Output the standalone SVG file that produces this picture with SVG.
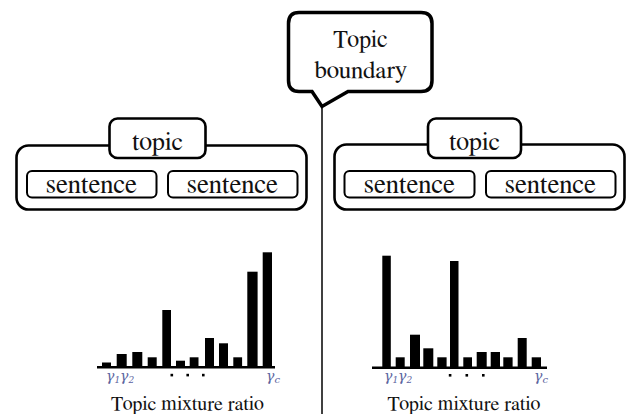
<svg xmlns="http://www.w3.org/2000/svg" width="638" height="414" viewBox="0 0 638 414">
  <style>
    .txt { fill: #111; text-anchor: middle; }
    .frame { fill: #fff; stroke: #000; stroke-width: 2.6; }
    .sent { fill: #fff; stroke: #000; stroke-width: 2; }
    .bar { fill: #000; }
    .gam { font-family: 'DejaVu Serif', serif; font-style: italic; font-size: 14px; fill: #5b64a0; }
    .cap { font-size: 20px; }
  </style>

  <!-- topic boundary line and callout -->
  <g id="connectors">
    <line x1="322" y1="104" x2="322" y2="414" stroke="#000" stroke-width="1.5"/>
  </g>
  <g id="boundary-callout">
    <path d="M 299 12.5 H 421 Q 432 12.5 432 23.5 V 80.5 Q 432 91.5 421 91.5 H 348 L 322 106.5 L 312 91.5 H 299 Q 288.5 91.5 288.5 80.5 V 23.5 Q 288.5 12.5 299 12.5 Z" fill="#fff" stroke="#000" stroke-width="3.5" stroke-linejoin="miter"/>
    <text class="txt" x="360.5" y="46.5" font-size="24" style="font-family:'FreeSerif'">Topic</text>
    <text class="txt" x="360.5" y="78" font-size="25" style="font-family:'FreeSerif'">boundary</text>
  </g>

  <!-- left topic block -->
  <g id="topic-left">
    <rect class="frame" x="16.5" y="145.5" width="290" height="64" rx="12"/>
    <rect class="frame" x="109.5" y="118.5" width="96" height="39.5" rx="8"/>
    <text class="txt" x="157.5" y="149.5" font-size="26" style="font-family:'FreeSerif'">topic</text>
    <g id="sentence-left-1">
      <rect class="sent" x="27" y="171" width="129.5" height="26.5" rx="5"/>
      <text class="txt" x="91.5" y="193" font-size="27" style="font-family:'FreeSerif'">sentence</text>
    </g>
    <g id="sentence-left-2">
      <rect class="sent" x="168" y="171" width="129.5" height="26.5" rx="5"/>
      <text class="txt" x="232.5" y="193" font-size="27" style="font-family:'FreeSerif'">sentence</text>
    </g>
  </g>

  <!-- right topic block -->
  <g id="topic-right">
    <rect class="frame" x="334.5" y="144.5" width="290" height="65" rx="12"/>
    <rect class="frame" x="428" y="118.5" width="93" height="39.5" rx="8"/>
    <text class="txt" x="474.5" y="149.5" font-size="26" style="font-family:'FreeSerif'">topic</text>
    <g id="sentence-right-1">
      <rect class="sent" x="344.5" y="171" width="130" height="26.5" rx="5"/>
      <text class="txt" x="409.5" y="193" font-size="27" style="font-family:'FreeSerif'">sentence</text>
    </g>
    <g id="sentence-right-2">
      <rect class="sent" x="486" y="171" width="129.5" height="26.5" rx="5"/>
      <text class="txt" x="550.5" y="193" font-size="27" style="font-family:'FreeSerif'">sentence</text>
    </g>
  </g>

  <!-- left mixture histogram -->
  <g id="chart-left">
    <rect class="bar" x="102" y="362.5" width="9" height="5"/>
    <rect class="bar" x="116.7" y="354" width="10" height="13.5"/>
    <rect class="bar" x="132.3" y="352" width="10" height="15.5"/>
    <rect class="bar" x="147.7" y="357.3" width="9" height="10.2"/>
    <rect class="bar" x="162.3" y="310" width="8.7" height="57.5"/>
    <rect class="bar" x="176" y="360.7" width="9" height="6.8"/>
    <rect class="bar" x="189.7" y="357.3" width="8.8" height="10.2"/>
    <rect class="bar" x="205" y="338" width="9" height="29.5"/>
    <rect class="bar" x="219" y="343.3" width="9" height="24.2"/>
    <rect class="bar" x="233.3" y="357.3" width="8.8" height="10.2"/>
    <rect class="bar" x="247.3" y="271.7" width="10.3" height="95.8"/>
    <rect class="bar" x="262.7" y="252.3" width="9.3" height="115.2"/>
    <rect class="bar" x="97" y="366" width="178" height="2.5"/>
    <rect class="bar" x="170.5" y="373.8" width="2.6" height="2.6"/>
    <rect class="bar" x="186.4" y="373.8" width="2.6" height="2.6"/>
    <rect class="bar" x="202" y="373.8" width="2.6" height="2.6"/>
    <text class="gam" x="106" y="381">γ<tspan font-size="9" dy="2">1</tspan><tspan dy="-2">γ</tspan><tspan font-size="9" dy="2">2</tspan></text>
    <text class="gam" x="266" y="381">γ<tspan font-size="10" dy="2">c</tspan></text>
    <text class="txt cap" x="187.5" y="410" style="font-family:'FreeSerif'">Topic mixture ratio</text>
  </g>

  <!-- right mixture histogram -->
  <g id="chart-right">
    <rect class="bar" x="382.3" y="255.7" width="8.5" height="112.3"/>
    <rect class="bar" x="395.7" y="357.3" width="9" height="10.7"/>
    <rect class="bar" x="410" y="334.7" width="10" height="33.3"/>
    <rect class="bar" x="423.3" y="348.3" width="10" height="19.7"/>
    <rect class="bar" x="437.3" y="357.3" width="9.3" height="10.7"/>
    <rect class="bar" x="450" y="261" width="8.5" height="107"/>
    <rect class="bar" x="463.3" y="357.3" width="8.7" height="10.7"/>
    <rect class="bar" x="476.7" y="352" width="10" height="16"/>
    <rect class="bar" x="490.7" y="352" width="9.3" height="16"/>
    <rect class="bar" x="503.3" y="357.3" width="9.3" height="10.7"/>
    <rect class="bar" x="517.7" y="338" width="9" height="30"/>
    <rect class="bar" x="531.7" y="357.3" width="9.3" height="10.7"/>
    <rect class="bar" x="372" y="366.5" width="175" height="2.5"/>
    <rect class="bar" x="448.8" y="374" width="2.6" height="2.6"/>
    <rect class="bar" x="465.5" y="374" width="2.6" height="2.6"/>
    <rect class="bar" x="482" y="374" width="2.6" height="2.6"/>
    <text class="gam" x="384" y="381">γ<tspan font-size="9" dy="2">1</tspan><tspan dy="-2">γ</tspan><tspan font-size="9" dy="2">2</tspan></text>
    <text class="gam" x="534" y="381">γ<tspan font-size="10" dy="2">c</tspan></text>
    <text class="txt cap" x="464" y="410" style="font-family:'FreeSerif'">Topic mixture ratio</text>
  </g>
</svg>
